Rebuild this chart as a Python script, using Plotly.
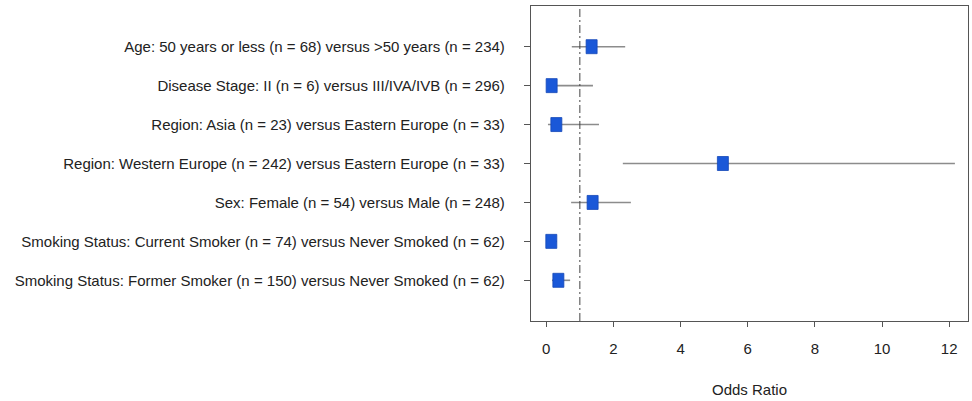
import plotly.graph_objects as go

labels = [
    "Age: 50 years or less (n = 68) versus >50 years (n = 234)",
    "Disease Stage: II (n = 6) versus III/IVA/IVB (n = 296)",
    "Region: Asia (n = 23) versus Eastern Europe (n = 33)",
    "Region: Western Europe (n = 242) versus Eastern Europe (n = 33)",
    "Sex: Female (n = 54) versus Male (n = 248)",
    "Smoking Status: Current Smoker (n = 74) versus Never Smoked (n = 62)",
    "Smoking Status: Former Smoker (n = 150) versus Never Smoked (n = 62)",
]
odds_ratio = [1.35, 0.16, 0.30, 5.26, 1.38, 0.15, 0.36]
ci_low = [0.76, 0.03, 0.05, 2.28, 0.74, 0.01, 0.17]
ci_high = [2.35, 1.39, 1.57, 12.17, 2.52, 0.32, 0.71]
x_ticks = [0, 2, 4, 6, 8, 10, 12]
ref_value = 1

n = len(labels)
ypos = list(range(n, 0, -1))

FONT = "Liberation Sans, Arial, Helvetica, sans-serif"
fig = go.Figure()

# CI lines
for lo, hi, y in zip(ci_low, ci_high, ypos):
    fig.add_trace(go.Scatter(x=[lo, hi], y=[y, y], mode="lines",
                             line=dict(color="#8c8c8c", width=1.6),
                             showlegend=False, hoverinfo="skip"))

# point estimate boxes (pixel-sized rectangles anchored at data values)
for orv, y in zip(odds_ratio, ypos):
    fig.add_shape(type="rect", xref="x", yref="y",
                  xsizemode="pixel", ysizemode="pixel",
                  xanchor=orv, yanchor=y,
                  x0=-5.5, x1=5.5, y0=-7, y1=7,
                  fillcolor="#1a58d8", line=dict(color="#1447b8", width=0.8),
                  layer="above")

# reference line
fig.add_shape(type="line", xref="x", yref="paper", x0=ref_value, x1=ref_value,
              y0=0, y1=1, line=dict(color="#444444", width=1, dash="8px,3px,2px,3px"))

fig.update_layout(
    width=972, height=401,
    margin=dict(l=531, r=4, t=6, b=80),
    plot_bgcolor="white", paper_bgcolor="white",
    font=dict(family=FONT, size=15, color="#222222"),
    showlegend=False,
)
fig.update_xaxes(
    range=[-0.455, 12.56], tickvals=x_ticks, ticktext=[str(v) for v in x_ticks],
    showgrid=False, zeroline=False, automargin=False,
    showline=True, mirror=True, linecolor="#555555", linewidth=1.3,
    ticks="outside", ticklen=5, tickcolor="#555555",
    ticklabelstandoff=9,
    title=dict(text="Odds Ratio", standoff=28, font=dict(size=15)),
)
fig.update_yaxes(
    range=[-0.045, 8.045], tickvals=ypos, ticktext=labels,
    showgrid=False, zeroline=False, automargin=False,
    showline=True, mirror=True, linecolor="#555555", linewidth=1.3,
    ticks="outside", ticklen=6, tickcolor="#555555",
    ticklabelstandoff=16,
)

fig.write_html("out.html", config={"displayModeBar": False},
               post_script="document.body.style.margin='0px';")
